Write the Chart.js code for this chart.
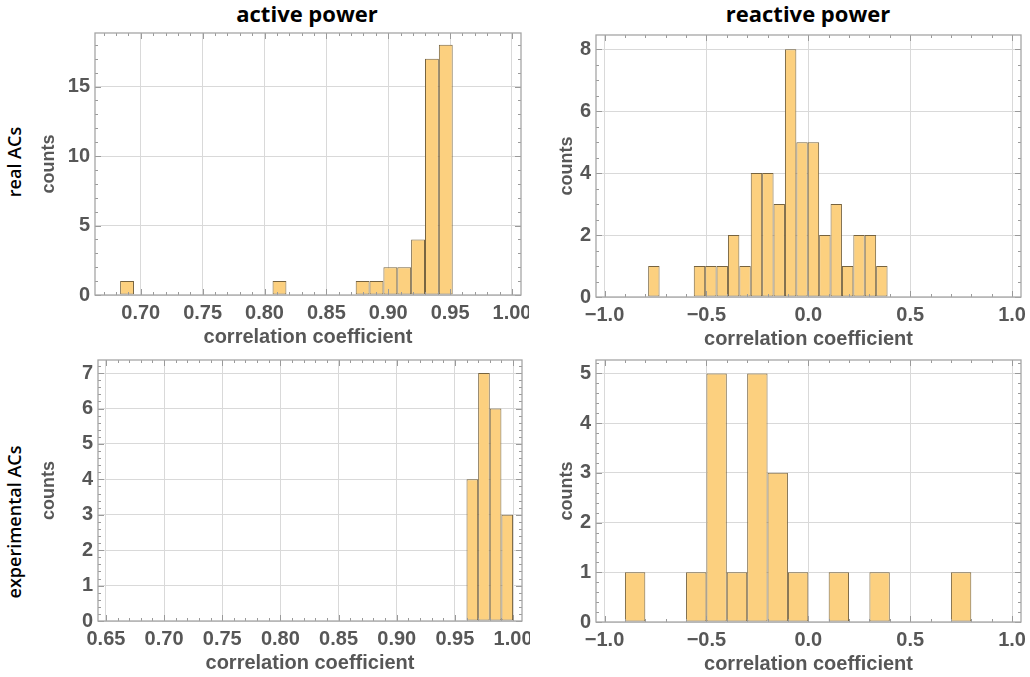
<!DOCTYPE html>
<html>
<head>
<meta charset="utf-8">
<script src="https://cdn.jsdelivr.net/npm/chart.js@4.4.0/dist/chart.umd.min.js"></script>
<style>
  body { margin: 0; background: #fff; width: 1030px; height: 677px; position: relative; overflow: hidden; }
  canvas { position: absolute; }
  .col { position: absolute; top: -2px; width: 300px; text-align: center; font: bold 22px "Open Sans", sans-serif; color: #000; }
  .row { position: absolute; width: 200px; text-align: center; font: 600 18px "Open Sans", sans-serif; color: #000;
         transform: rotate(-90deg); transform-origin: center; }
</style>
</head>
<body>
<div class="col" style="left:157px">active power</div>
<div class="col" style="left:658px">reactive power</div>
<div class="row" style="left:-86px; top:150px">real ACs</div>
<div class="row" style="left:-86px; top:510px">experimental ACs</div>

<canvas id="activeReal" width="499" height="324" style="left:30px; top:25px"></canvas>
<canvas id="reactiveReal" width="479" height="324" style="left:550px; top:27px"></canvas>
<canvas id="activeExp" width="500" height="323" style="left:30px; top:352px"></canvas>
<canvas id="reactiveExp" width="479" height="324" style="left:550px; top:352px"></canvas>

<script>
// histogram bins: first bin edge, bin width, counts per bin
const activeRealStart = 0.6833;
const activeRealWidth = 0.0112;
const activeRealCounts = [1, 0, 0, 0, 0, 0, 0, 0, 0, 0, 0, 1, 0, 0, 0, 0, 0, 1, 1, 2, 2, 4, 17, 18];

const reactiveRealStart = -0.786;
const reactiveRealWidth = 0.05595;
const reactiveRealCounts = [1, 0, 0, 0, 1, 1, 1, 2, 1, 4, 4, 3, 8, 5, 5, 2, 3, 1, 2, 2, 1];

const activeExpStart = 0.96;
const activeExpWidth = 0.01;
const activeExpCounts = [4, 7, 6, 3];

const reactiveExpStart = -0.9;
const reactiveExpWidth = 0.1;
const reactiveExpCounts = [1, 0, 0, 1, 5, 1, 5, 3, 1, 0, 1, 0, 1, 0, 0, 0, 1];

// tick labels
const activeRealXTicks = [0.70, 0.75, 0.80, 0.85, 0.90, 0.95, 1.00];
const activeExpXTicks = [0.65, 0.70, 0.75, 0.80, 0.85, 0.90, 0.95, 1.00];
const reactiveXTicks = [-1.0, -0.5, 0.0, 0.5, 1.0];
const activeRealYTicks = [0, 5, 10, 15];
const reactiveRealYTicks = [0, 2, 4, 6, 8];
const activeExpYTicks = [0, 1, 2, 3, 4, 5, 6, 7];
const reactiveExpYTicks = [0, 1, 2, 3, 4, 5];

const BAR = '#fcd07f';
const EDGE = '#76633f';
const GRID = '#d9d9d9';
const FRAME = '#a6a6a6';
const TEXT = '#575757';
const FONT = '"Liberation Sans", Arial, sans-serif';

// frame on all four sides plus inward major/minor tick marks
const framePlugin = {
  id: 'frame',
  afterDatasetsDraw(chart, args, opts) {
    const { ctx, chartArea: a, scales } = chart;
    const xs = scales.x, ys = scales.y;
    ctx.save();
    ctx.strokeStyle = '#9a9a9a';
    ctx.lineWidth = 1;
    const marks = (scale, step, len, horiz) => {
      const first = Math.ceil(scale.min / step - 1e-9);
      for (let k = first; k * step <= scale.max + 1e-9; k++) {
        const p = Math.round(scale.getPixelForValue(k * step)) + 0.5;
        ctx.beginPath();
        if (horiz) {
          ctx.moveTo(p, a.bottom); ctx.lineTo(p, a.bottom - len);
          ctx.moveTo(p, a.top); ctx.lineTo(p, a.top + len);
        } else {
          ctx.moveTo(a.left, p); ctx.lineTo(a.left + len, p);
          ctx.moveTo(a.right, p); ctx.lineTo(a.right - len, p);
        }
        ctx.stroke();
      }
    };
    marks(xs, opts.xMinor, 3, true);
    marks(ys, opts.yMinor, 3, false);
    marks(xs, opts.xMajor, 6, true);
    marks(ys, opts.yMajor, 6, false);
    ctx.strokeStyle = FRAME;
    ctx.lineWidth = 1.3;
    ctx.strokeRect(a.left, a.top, a.right - a.left, a.bottom - a.top);
    ctx.restore();
  }
};

function makeHistogram(id, p) {
  const points = p.counts.map((c, i) => ({ x: p.start + (i + 0.5) * p.width, y: c }));
  return new Chart(document.getElementById(id), {
    type: 'bar',
    data: {
      datasets: [{
        data: points,
        backgroundColor: BAR,
        borderColor: EDGE,
        borderWidth: 1,
        borderSkipped: false,
        inflateAmount: 0,
        barPercentage: 1,
        categoryPercentage: 1
      }]
    },
    options: {
      responsive: false,
      animation: false,
      layout: { padding: { top: 8, right: 8, left: 0, bottom: 0 } },
      plugins: {
        legend: { display: false },
        tooltip: { enabled: false },
        frame: p.frame
      },
      scales: {
        x: {
          type: 'linear',
          min: p.xMin,
          max: p.xMax,
          offset: false,
          afterBuildTicks: (s) => { s.ticks = p.xTicks.map(v => ({ value: v })); },
          afterFit: (s) => { s.height = 54; s.paddingLeft = 0; s.paddingRight = 0; },
          grid: { color: GRID, drawTicks: false, offset: false },
          border: { display: false },
          ticks: {
            autoSkip: false, maxRotation: 0, padding: 6, color: TEXT,
            font: { family: FONT, size: 20, weight: 'bold' },
            callback: p.xFormat
          },
          title: {
            display: true, text: 'correlation coefficient', color: TEXT,
            padding: { top: 0, bottom: 0 },
            font: { family: FONT, size: 20, weight: 'bold' }
          }
        },
        y: {
          min: 0,
          max: p.yMax,
          afterBuildTicks: (s) => { s.ticks = p.yTicks.map(v => ({ value: v })); },
          afterFit: (s) => { s.width = p.yWidth; s.paddingTop = 0; s.paddingBottom = 0; },
          grid: { color: GRID, drawTicks: false },
          border: { display: false },
          ticks: {
            padding: 5, color: TEXT,
            font: { family: FONT, size: 20, weight: 'bold' }
          },
          title: {
            display: true, text: 'counts', color: TEXT,
            padding: { top: p.titlePad, bottom: 0 },
            font: { family: '"Liberation Sans Narrow", ' + FONT, size: 18, weight: 'bold' }
          }
        }
      }
    },
    plugins: [framePlugin]
  });
}

const fmt2 = (v) => Number(v).toFixed(2);
const fmt1 = (v) => Number(v).toFixed(1).replace('-', '\u2212');

makeHistogram('activeReal', {
  start: activeRealStart, width: activeRealWidth, counts: activeRealCounts,
  xMin: 0.663, xMax: 1.0073, yMax: 18.85,
  xTicks: activeRealXTicks, yTicks: activeRealYTicks, xFormat: fmt2,
  yWidth: 65, titlePad: 8,
  frame: { xMajor: 0.05, xMinor: 0.01, yMajor: 5, yMinor: 1 }
});

makeHistogram('reactiveReal', {
  start: reactiveRealStart, width: reactiveRealWidth, counts: reactiveRealCounts,
  xMin: -1.042, xMax: 1.044, yMax: 8.46,
  xTicks: reactiveXTicks, yTicks: reactiveRealYTicks, xFormat: fmt1,
  yWidth: 46, titlePad: 6,
  frame: { xMajor: 0.5, xMinor: 0.1, yMajor: 2, yMinor: 0.5 }
});

makeHistogram('activeExp', {
  start: activeExpStart, width: activeExpWidth, counts: activeExpCounts,
  xMin: 0.6432, xMax: 1.0077, yMax: 7.37,
  xTicks: activeExpXTicks, yTicks: activeExpYTicks, xFormat: fmt2,
  yWidth: 68, titlePad: 8,
  frame: { xMajor: 0.05, xMinor: 0.01, yMajor: 1, yMinor: 0.2 }
});

makeHistogram('reactiveExp', {
  start: reactiveExpStart, width: reactiveExpWidth, counts: reactiveExpCounts,
  xMin: -1.042, xMax: 1.044, yMax: 5.27,
  xTicks: reactiveXTicks, yTicks: reactiveExpYTicks, xFormat: fmt1,
  yWidth: 46, titlePad: 6,
  frame: { xMajor: 0.5, xMinor: 0.1, yMajor: 1, yMinor: 0.2 }
});
</script>
</body>
</html>
